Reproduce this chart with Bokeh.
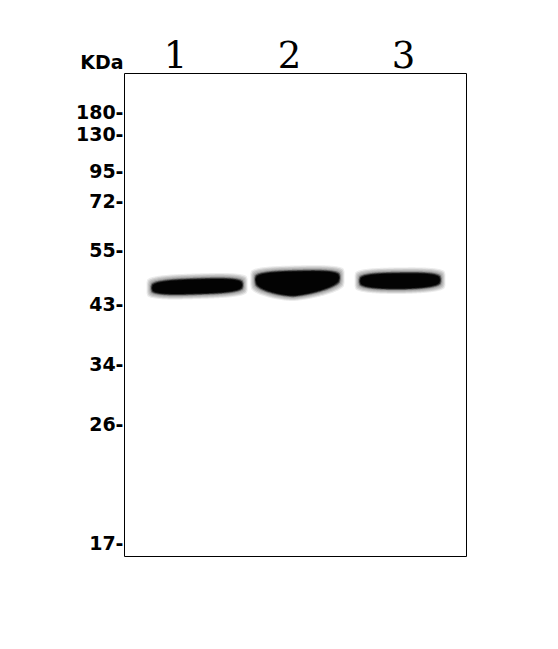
import numpy as np
from bokeh.plotting import figure
from bokeh.models import Range1d, FixedTicker
from bokeh.core.properties import value
from bokeh.embed import file_html
from bokeh.resources import INLINE

# ---- data ----
axis_unit = "KDa"
marker_kda = ["180", "130", "95", "72", "55", "43", "34", "26", "17"]
marker_pos = [38, 60, 97, 127, 176, 230, 290, 350, 469]   # migration distance from gel top

lanes = [1, 2, 3]
lane_labels = ["1", "2", "3"]

band_center = [1.19, 2.07, 2.97]       # lane units
band_width = [0.79, 0.73, 0.70]        # lane units
band_mid = [213, 205, 207]             # migration units
band_tilt = [-1.5, -1.0, -0.5]
band_top_half = [7, 7, 7]
band_bottom_half = [7, 17, 8]
band_vee = [0, 7, 1]
band_vee_at = [0, -0.1, 0]

# ---- layout constants ----
PX_PER_LANE = 114.0
GEL_LEFT, GEL_RIGHT = 0.553, 3.553
GEL_TOP, GEL_BOTTOM = 0, 483
UNIT_Y = -12
LANE_LABEL_Y = -19

W, H = 550, 641
p = figure(width=W, height=H,
           x_range=Range1d(GEL_LEFT - 1 / PX_PER_LANE, GEL_RIGHT + 2 / PX_PER_LANE),
           y_range=Range1d(GEL_BOTTOM + 3, -43),
           output_backend="svg", toolbar_location=None, x_axis_location=None,
           min_border_left=123, min_border_right=82, min_border_top=30, min_border_bottom=82)
p.grid.visible = False
p.background_fill_color = "white"
p.border_fill_color = "white"
p.outline_line_color = None

# gel border
p.quad(left=[GEL_LEFT], right=[GEL_RIGHT], top=[GEL_TOP], bottom=[GEL_BOTTOM],
       fill_color=None, line_color="black", line_width=1)

def band_shape(i, pad):
    u = np.linspace(-1, 1, 121)
    pw = 3.0
    e = (1 - np.abs(u) ** pw) ** (1 / pw)
    mid = band_mid[i] + band_tilt[i] * u
    top = mid - band_top_half[i] * e - pad * 1.1
    hb = band_bottom_half[i] - band_vee[i] * np.abs(u - band_vee_at[i]) ** 1.3
    bot = mid + hb * e + pad
    half = band_width[i] / 2 + pad / PX_PER_LANE
    x = band_center[i] + u * half
    xs = np.concatenate([x, x[::-1]])
    ys = np.concatenate([top, bot[::-1]])
    return list(xs), list(ys)

layers = [(5.5, "#ececec"), (4.5, "#d2d2d2"), (3.5, "#bcbcbc"), (2.5, "#a4a4a4"),
          (1.6, "#6a6a6a"), (0.8, "#262626"), (0, "#030303")]
for pad, col in layers:
    xs_all, ys_all = [], []
    for i in range(len(lanes)):
        xs, ys = band_shape(i, pad)
        xs_all.append(xs)
        ys_all.append(ys)
    p.patches(xs_all, ys_all, fill_color=col, line_color=None)

# lane numbers
p.text(x=lanes, y=[LANE_LABEL_Y] * len(lanes), text=lane_labels,
       text_font=value("DejaVu Serif"), text_font_size="37px", text_color="black",
       text_align="center", text_baseline="alphabetic")

# y axis: marker ladder (with unit header)
ya = p.yaxis[0]
ticks = [UNIT_Y] + marker_pos
ya.ticker = FixedTicker(ticks=ticks)
overrides = {UNIT_Y: axis_unit}
overrides.update({pos: k + "-" for pos, k in zip(marker_pos, marker_kda)})
ya.major_label_overrides = overrides
ya.axis_line_color = None
ya.major_tick_line_color = None
ya.minor_tick_line_color = None
ya.major_tick_out = 0
ya.major_tick_in = 0
ya.major_label_standoff = 0
ya.major_label_text_font = "DejaVu Sans"
ya.major_label_text_font_style = "bold"
ya.major_label_text_font_size = "19px"
ya.major_label_text_color = "black"

open("out.html", "w").write(file_html(p, INLINE))
